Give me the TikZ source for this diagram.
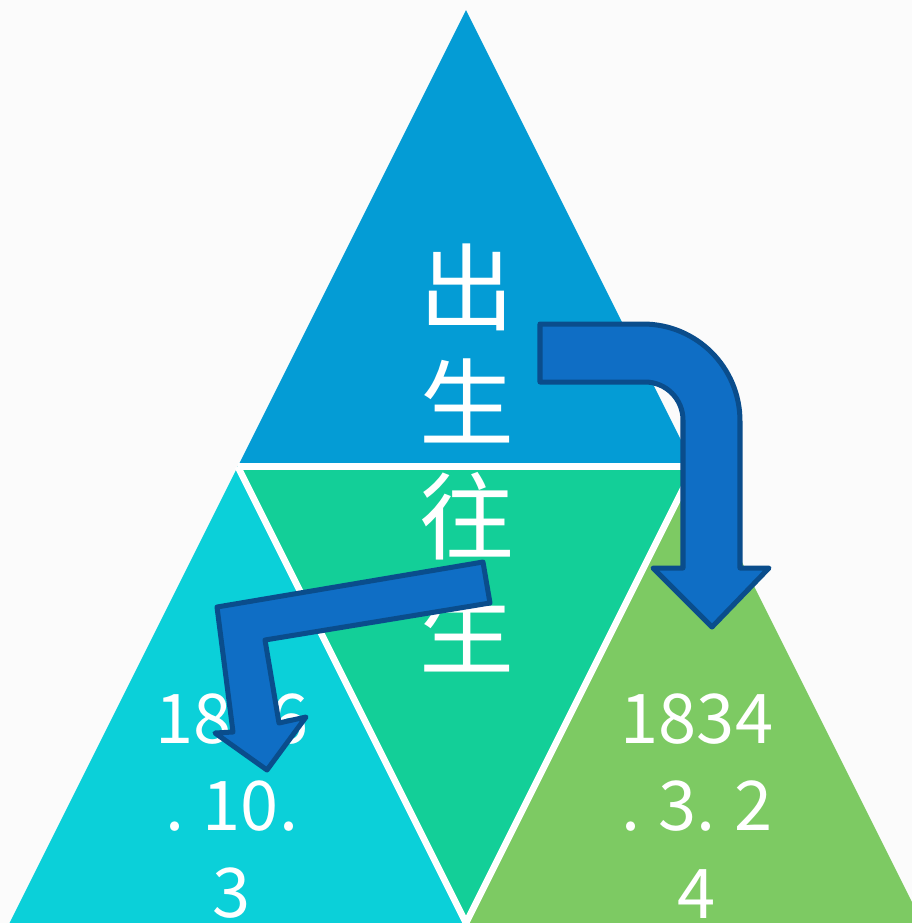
\documentclass[tikz,border=0pt]{standalone}
\usepackage{fontspec}
\newfontfamily\cjk{Noto Sans CJK SC}
\definecolor{bgc}{HTML}{FBFBFB}
\definecolor{topc}{HTML}{049CD5}
\definecolor{midc}{HTML}{13CF98}
\definecolor{leftc}{HTML}{0BD0D9}
\definecolor{rightc}{HTML}{7DCA63}
\definecolor{arrfill}{HTML}{0F6EC5}
\definecolor{arrline}{HTML}{0A4D8C}
\tikzset{
  sep/.style={draw=white, line width=0.065cm},
  arrowshape/.style={fill=arrfill, draw=arrline, line width=0.05cm, line join=round},
  cjktext/.style={text=white, font=\cjk\fontsize{27}{32.6}\selectfont, align=center, inner sep=0pt},
  numtext/.style={text=white, font=\cjk\fontsize{19.5}{24.8}\selectfont, align=center, inner sep=0pt}
}
\begin{document}
\begin{tikzpicture}[x=0.01cm, y=-0.01cm]
\useasboundingbox (0,0) rectangle (912,923);
\clip (0,0) rectangle (912,923);
\fill[bgc] (0,0) rectangle (912,923);
% corner points of the big triangle
\coordinate (A) at (466,10);
\coordinate (BL) at (9.5,923);
\coordinate (BR) at (922.5,923);
\coordinate (ML) at (237.75,466.5);
\coordinate (MR) at (694.25,466.5);
\coordinate (MB) at (466,923);
% four triangles
\fill[topc] (A) -- (ML) -- (MR) -- cycle;
\fill[midc] (ML) -- (MR) -- (MB) -- cycle;
\fill[leftc] (ML) -- (BL) -- (MB) -- cycle;
\fill[rightc] (MR) -- (MB) -- (BR) -- cycle;
% white separators
\draw[sep] (ML) -- (MR);
\draw[sep] (ML) -- (MB);
\draw[sep] (MR) -- (MB);
% texts
\node[cjktext] (title) at (467,458) {出\\生\\往\\生};
\node[numtext] (death) at (232,806) {1886\\.\kern0.18cm10.\\3};
\node[numtext] (birth) at (697,806) {1834\\.\kern0.18cm3.\kern0.18cm2\\4};
% right bent arrow with rounded corner
\draw[arrowshape] (540,324) -- (643,324)
  .. controls (696.6,324) and (740,367.4) .. (740,421)
  -- (740,568) -- (769,568) -- (712,627) -- (653,568) -- (683,568) -- (683,420)
  .. controls (683,399) and (666,382) .. (645,382)
  -- (540,382) -- cycle;
% left bent arrow, tilted
\draw[arrowshape] (483,562) -- (217,607) -- (233,732) -- (215,733) -- (267,770)
  -- (306,717) -- (279,723) -- (265,640) -- (490,603) -- cycle;
\end{tikzpicture}
\end{document}
